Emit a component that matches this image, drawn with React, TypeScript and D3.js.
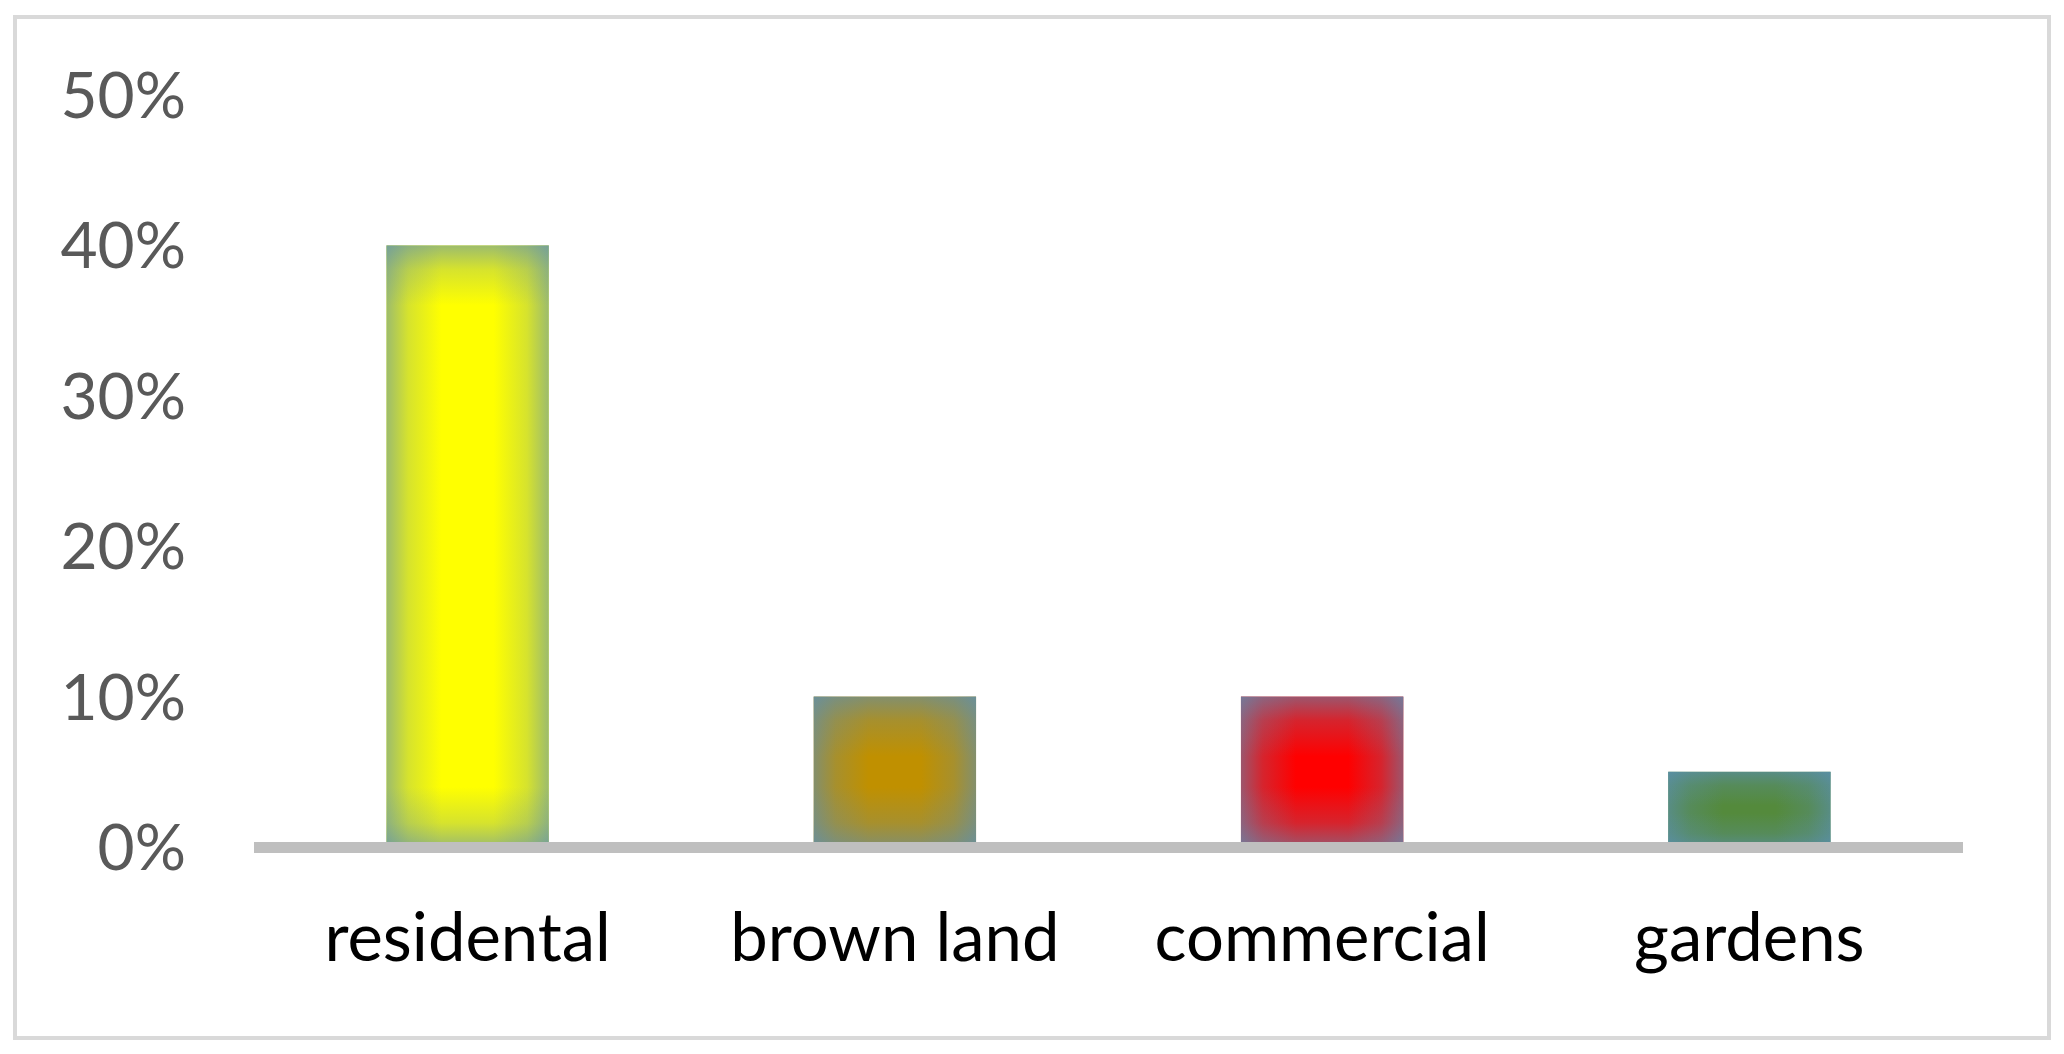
import React from "react";
import * as d3 from "d3";

const categories = ["residental", "brown land", "commercial", "gardens"];
const values = [0.4, 0.1, 0.1, 0.05];
const barColors = ["#ffff00", "#c09000", "#ff0000", "#548a3c"];
const yTicks = [0, 0.1, 0.2, 0.3, 0.4, 0.5];

const W = 2064;
const H = 1054;
const FONT = "Lato, 'Open Sans', sans-serif";
const EDGE = "#5b8fb5";

export default function App() {
  const x = d3.scaleBand<string>().domain(categories).range([254, 1963]).padding(0);
  const y = d3.scaleLinear().domain([0, 0.5]).range([847, 95]);
  const barW = x.bandwidth() * 0.38;
  const fmt = d3.format(".0%");
  const fs = 64;
  const fsCat = 67;

  return (
    <svg
      width={W}
      height={H}
      style={{ position: "fixed", left: 0, top: 0, background: "#fff" }}
    >
      <defs>
        {categories.map((c, i) => {
          const cx = (x(c) as number) + x.bandwidth() / 2;
          const x0 = cx - barW / 2;
          const x1 = cx + barW / 2;
          const y0 = y(values[i]);
          const y1 = y(0);
          const h = y1 - y0;
          const fx = Math.min(0.45, 55 / barW);
          const fy = Math.min(0.45, 60 / h);
          return (
            <React.Fragment key={c}>
              <linearGradient id={`gh${i}`} gradientUnits="userSpaceOnUse" x1={x0} y1={0} x2={x1} y2={0}>
                <stop offset={0} stopColor={EDGE} stopOpacity={0.6} />
                <stop offset={fx * 0.4} stopColor={EDGE} stopOpacity={0.25} />
                <stop offset={fx} stopColor={EDGE} stopOpacity={0} />
                <stop offset={1 - fx} stopColor={EDGE} stopOpacity={0} />
                <stop offset={1 - fx * 0.4} stopColor={EDGE} stopOpacity={0.25} />
                <stop offset={1} stopColor={EDGE} stopOpacity={0.6} />
              </linearGradient>
              <linearGradient id={`gv${i}`} gradientUnits="userSpaceOnUse" x1={0} y1={y0} x2={0} y2={y1}>
                <stop offset={0} stopColor={EDGE} stopOpacity={0.6} />
                <stop offset={fy * 0.4} stopColor={EDGE} stopOpacity={0.25} />
                <stop offset={fy} stopColor={EDGE} stopOpacity={0} />
                <stop offset={1 - fy} stopColor={EDGE} stopOpacity={0} />
                <stop offset={1 - fy * 0.4} stopColor={EDGE} stopOpacity={0.25} />
                <stop offset={1} stopColor={EDGE} stopOpacity={0.6} />
              </linearGradient>
            </React.Fragment>
          );
        })}
      </defs>

      <rect x={15} y={17} width={2034} height={1021} fill="#fff" stroke="#d9d9d9" strokeWidth={4} />

      {categories.map((c, i) => {
        const cx = (x(c) as number) + x.bandwidth() / 2;
        const x0 = cx - barW / 2;
        const y0 = y(values[i]);
        const h = y(0) - y0;
        return (
          <g key={c}>
            <rect x={x0} y={y0} width={barW} height={h} fill={barColors[i]} />
            <rect x={x0} y={y0} width={barW} height={h} fill={`url(#gh${i})`} />
            <rect x={x0} y={y0} width={barW} height={h} fill={`url(#gv${i})`} />
          </g>
        );
      })}

      <line x1={254} x2={1963} y1={847.5} y2={847.5} stroke="#bfbfbf" strokeWidth={11} />

      {yTicks.map((t) => (
        <text
          key={t}
          x={186}
          y={y(t) + fs * 0.36}
          textAnchor="end"
          fontFamily={FONT}
          fontSize={fs}
          fill="#595959"
        >
          {fmt(t)}
        </text>
      ))}

      {categories.map((c) => (
        <text
          key={c}
          x={(x(c) as number) + x.bandwidth() / 2}
          y={961}
          textAnchor="middle"
          fontFamily={FONT}
          fontSize={fsCat}
          fill="#000"
        >
          {c}
        </text>
      ))}
    </svg>
  );
}
